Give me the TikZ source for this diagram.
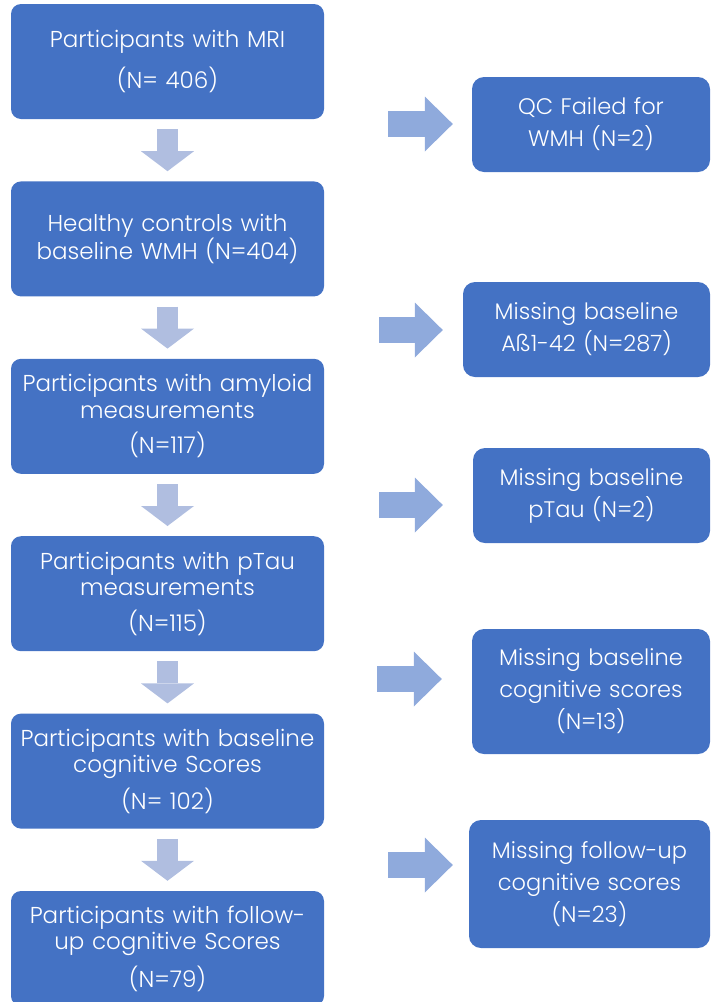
\documentclass[tikz,border=0pt]{standalone}
\usepackage{fontspec}
\setmainfont{Poppins}[UprightFont={* Light}]
\usepackage{tikz}
\usetikzlibrary{arrows.meta,positioning}

\definecolor{boxblue}{HTML}{4472C4}
\definecolor{downblue}{HTML}{B0BEE0}
\definecolor{sideblue}{HTML}{8FAADC}

\begin{document}
\begin{tikzpicture}[x=1pt,y=-1pt]
        \useasboundingbox (0,0) rectangle (711,1002);

        \begin{scope}[node distance=62pt,
                      every node/.style={fill=boxblue, rounded corners=10pt, text=white,
                                         minimum width=313pt, minimum height=115pt,
                                         text width=309pt, inner sep=0pt, align=center,
                                         font=\fontsize{23}{26.5}\selectfont}]
            \node (A) at (167.5,61.5) {Participants with MRI\\[12pt](N= 406)};
            \node (B) [below=of A] {Healthy controls with\\baseline WMH (N=404)};
            \node (C) [below=of B] {Participants with amyloid\\measurements\\[9pt](N=117)};
            \node (D) [below=of C] {Participants with pTau\\measurements\\[9pt](N=115)};
            \node (E) [below=of D] {Participants with baseline\\cognitive Scores\\[8pt](N= 102)};
            \node (F) [below=of E] {Participants with follow-\\up cognitive Scores\\[9pt](N=79)};
        \end{scope}

        \begin{scope}[every node/.style={fill=boxblue, rounded corners=12pt, text=white,
                                         minimum height=95pt, text width=232pt,
                                         inner sep=0pt, align=center,
                                         font=\fontsize{22.5}{32}\selectfont}]
            \node (A') [minimum width=238pt] at (591,124.5) {QC Failed for\\WMH (N=2)};
            \node (B') [minimum width=247pt] at (586.5,329.5) {Missing baseline\\A\ss1-42 (N=287)};
            \node (C') [minimum width=237pt] at (591.5,495.5) {Missing baseline\\pTau (N=2)};
            \node (D') [minimum width=238pt, minimum height=125pt] at (591,691.5) {Missing baseline\\cognitive scores\\(N=13)};
            \node (E') [minimum width=241pt, minimum height=128pt] at (589.5,884) {Missing follow-up\\cognitive scores\\(N=23)};
        \end{scope}

        \coordinate (a) at (388,124);
        \coordinate (b) at (379,330);
        \coordinate (c) at (379,505);
        \coordinate (d) at (377,679);
        \coordinate (e) at (388,865);

        \begin{scope}[>={Triangle[length=20pt,width=53pt,line width=0pt]},
                      every edge/.style={draw=downblue, line width=21pt,
                                         shorten <=10pt, shorten >=10pt}]
            \path [->] (A) edge (B);
            \path [->] (B) edge (C);
            \path [->] (C) edge (D);
            \path [->] (D) edge (E);
            \path [->] (E) edge (F);
        \end{scope}

        \begin{scope}[>={Triangle[length=28pt,width=55pt,line width=0pt]},
                      every edge/.style={draw=sideblue, line width=26pt}]
            \path [->, shorten >=19pt] (a) edge (a -| A'.west);
            \path [->, shorten >=20pt] (b) edge (b -| B'.west);
            \path [->, shorten >=30pt] (c) edge (c -| C'.west);
            \path [->, shorten >=30pt] (d) edge (d -| D'.west);
            \path [->, shorten >=16pt] (e) edge (e -| E'.west);
        \end{scope}
    \end{tikzpicture}
\end{document}
